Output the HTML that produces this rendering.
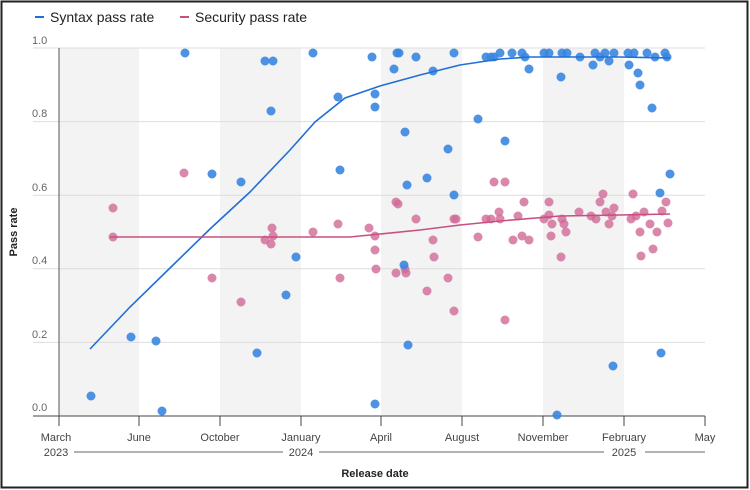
<!DOCTYPE html>
<html><head><style>
body{margin:0;background:#fff}
svg{display:block;font-family:"Liberation Sans",sans-serif}
</style></head><body>
<svg width="750" height="490" viewBox="0 0 750 490">
<rect x="1.5" y="1.5" width="746" height="486" fill="#fff" stroke="#222" stroke-width="2"/>
<g fill="#f3f3f3">
<rect x="59" y="48" width="80" height="368"/><rect x="220" y="48" width="81" height="368"/>
<rect x="381" y="48" width="81" height="368"/><rect x="543" y="48" width="81" height="368"/>
</g>
<g stroke="#ddd" stroke-width="1">
<line x1="33" x2="705" y1="48" y2="48"/><line x1="33" x2="705" y1="121.6" y2="121.6"/>
<line x1="33" x2="705" y1="195.2" y2="195.2"/><line x1="33" x2="705" y1="268.8" y2="268.8"/>
<line x1="33" x2="705" y1="342.4" y2="342.4"/>
</g>
<g fill="#666" font-size="11">
<text x="32" y="44">1.0</text><text x="32" y="117">0.8</text><text x="32" y="191">0.6</text>
<text x="32" y="264">0.4</text><text x="32" y="338">0.2</text><text x="32" y="411">0.0</text>
</g>
<line x1="59" y1="48" x2="59" y2="416" stroke="#555"/>
<line x1="33" y1="416" x2="705" y2="416" stroke="#444"/>
<g stroke="#444">
<line x1="59" x2="59" y1="416" y2="426"/><line x1="139" x2="139" y1="416" y2="426"/><line x1="220" x2="220" y1="416" y2="426"/>
<line x1="301" x2="301" y1="416" y2="426"/><line x1="381" x2="381" y1="416" y2="426"/><line x1="462" x2="462" y1="416" y2="426"/>
<line x1="543" x2="543" y1="416" y2="426"/><line x1="624" x2="624" y1="416" y2="426"/><line x1="705" x2="705" y1="416" y2="426"/>
</g>
<g fill="#444" font-size="11" text-anchor="middle">
<text x="56" y="441">March</text><text x="139" y="441">June</text><text x="220" y="441">October</text>
<text x="301" y="441">January</text><text x="381" y="441">April</text><text x="462" y="441">August</text>
<text x="543" y="441">November</text><text x="624" y="441">February</text><text x="705" y="441">May</text>
<text x="56" y="456">2023</text><text x="301" y="456">2024</text><text x="624" y="456">2025</text>
<text x="375" y="477" font-weight="bold" fill="#222">Release date</text>
</g>
<g stroke="#666"><line x1="74" x2="283" y1="452" y2="452"/><line x1="319" x2="604" y1="452" y2="452"/><line x1="645" x2="705" y1="452" y2="452"/></g>
<text transform="translate(17,232) rotate(-90)" text-anchor="middle" font-size="11" font-weight="bold" fill="#222">Pass rate</text>
<line x1="35" y1="17" x2="44" y2="17" stroke="#1f6fd6" stroke-width="2"/>
<text x="50" y="22" font-size="14" fill="#222">Syntax pass rate</text>
<line x1="180" y1="17" x2="189" y2="17" stroke="#c94f82" stroke-width="2"/>
<text x="195" y="22" font-size="14" fill="#222">Security pass rate</text>
<g fill="#d06a96" fill-opacity="0.8">
<circle cx="113" cy="208" r="4.5"/><circle cx="113" cy="237" r="4.5"/><circle cx="184" cy="173" r="4.5"/><circle cx="212" cy="278" r="4.5"/><circle cx="241" cy="302" r="4.5"/><circle cx="265" cy="240" r="4.5"/><circle cx="272" cy="228" r="4.5"/><circle cx="273" cy="236" r="4.5"/><circle cx="271" cy="244" r="4.5"/><circle cx="313" cy="232" r="4.5"/><circle cx="338" cy="224" r="4.5"/><circle cx="340" cy="278" r="4.5"/><circle cx="369" cy="228" r="4.5"/><circle cx="375" cy="236" r="4.5"/><circle cx="375" cy="250" r="4.5"/><circle cx="376" cy="269" r="4.5"/><circle cx="396" cy="202" r="4.5"/><circle cx="398" cy="204" r="4.5"/><circle cx="396" cy="273" r="4.5"/><circle cx="405" cy="269" r="4.5"/><circle cx="406" cy="273" r="4.5"/><circle cx="416" cy="219" r="4.5"/><circle cx="427" cy="291" r="4.5"/><circle cx="433" cy="240" r="4.5"/><circle cx="434" cy="257" r="4.5"/><circle cx="448" cy="278" r="4.5"/><circle cx="454" cy="311" r="4.5"/><circle cx="454" cy="219" r="4.5"/><circle cx="456" cy="219" r="4.5"/><circle cx="478" cy="237" r="4.5"/><circle cx="486" cy="219" r="4.5"/><circle cx="491" cy="219" r="4.5"/><circle cx="494" cy="182" r="4.5"/><circle cx="499" cy="212" r="4.5"/><circle cx="500" cy="219" r="4.5"/><circle cx="505" cy="182" r="4.5"/><circle cx="505" cy="320" r="4.5"/><circle cx="513" cy="240" r="4.5"/><circle cx="518" cy="216" r="4.5"/><circle cx="522" cy="236" r="4.5"/><circle cx="524" cy="202" r="4.5"/><circle cx="529" cy="240" r="4.5"/><circle cx="544" cy="219" r="4.5"/><circle cx="549" cy="215" r="4.5"/><circle cx="549" cy="202" r="4.5"/><circle cx="551" cy="236" r="4.5"/><circle cx="552" cy="224" r="4.5"/><circle cx="561" cy="257" r="4.5"/><circle cx="562" cy="219" r="4.5"/><circle cx="564" cy="224" r="4.5"/><circle cx="566" cy="232" r="4.5"/><circle cx="579" cy="212" r="4.5"/><circle cx="591" cy="216" r="4.5"/><circle cx="596" cy="219" r="4.5"/><circle cx="600" cy="202" r="4.5"/><circle cx="603" cy="194" r="4.5"/><circle cx="606" cy="212" r="4.5"/><circle cx="609" cy="224" r="4.5"/><circle cx="612" cy="216" r="4.5"/><circle cx="614" cy="208" r="4.5"/><circle cx="631" cy="219" r="4.5"/><circle cx="633" cy="194" r="4.5"/><circle cx="636" cy="216" r="4.5"/><circle cx="640" cy="232" r="4.5"/><circle cx="641" cy="256" r="4.5"/><circle cx="644" cy="212" r="4.5"/><circle cx="650" cy="224" r="4.5"/><circle cx="653" cy="249" r="4.5"/><circle cx="657" cy="232" r="4.5"/><circle cx="662" cy="211" r="4.5"/><circle cx="666" cy="202" r="4.5"/><circle cx="668" cy="223" r="4.5"/>
</g>
<g fill="#3a86e0" fill-opacity="0.9">
<circle cx="91" cy="396" r="4.5"/><circle cx="131" cy="337" r="4.5"/><circle cx="156" cy="341" r="4.5"/><circle cx="162" cy="411" r="4.5"/><circle cx="185" cy="53" r="4.5"/><circle cx="212" cy="174" r="4.5"/><circle cx="241" cy="182" r="4.5"/><circle cx="257" cy="353" r="4.5"/><circle cx="265" cy="61" r="4.5"/><circle cx="273" cy="61" r="4.5"/><circle cx="271" cy="111" r="4.5"/><circle cx="286" cy="295" r="4.5"/><circle cx="296" cy="257" r="4.5"/><circle cx="313" cy="53" r="4.5"/><circle cx="340" cy="170" r="4.5"/><circle cx="338" cy="97" r="4.5"/><circle cx="372" cy="57" r="4.5"/><circle cx="375" cy="107" r="4.5"/><circle cx="375" cy="94" r="4.5"/><circle cx="375" cy="404" r="4.5"/><circle cx="404" cy="265" r="4.5"/><circle cx="394" cy="69" r="4.5"/><circle cx="397" cy="53" r="4.5"/><circle cx="399" cy="53" r="4.5"/><circle cx="405" cy="132" r="4.5"/><circle cx="407" cy="185" r="4.5"/><circle cx="408" cy="345" r="4.5"/><circle cx="416" cy="57" r="4.5"/><circle cx="427" cy="178" r="4.5"/><circle cx="433" cy="71" r="4.5"/><circle cx="448" cy="149" r="4.5"/><circle cx="454" cy="53" r="4.5"/><circle cx="454" cy="195" r="4.5"/><circle cx="478" cy="119" r="4.5"/><circle cx="486" cy="57" r="4.5"/><circle cx="491" cy="57" r="4.5"/><circle cx="494" cy="57" r="4.5"/><circle cx="500" cy="53" r="4.5"/><circle cx="505" cy="141" r="4.5"/><circle cx="512" cy="53" r="4.5"/><circle cx="522" cy="53" r="4.5"/><circle cx="525" cy="57" r="4.5"/><circle cx="529" cy="69" r="4.5"/><circle cx="544" cy="53" r="4.5"/><circle cx="549" cy="53" r="4.5"/><circle cx="557" cy="415" r="4.5"/><circle cx="562" cy="53" r="4.5"/><circle cx="561" cy="77" r="4.5"/><circle cx="567" cy="53" r="4.5"/><circle cx="580" cy="57" r="4.5"/><circle cx="595" cy="53" r="4.5"/><circle cx="593" cy="65" r="4.5"/><circle cx="600" cy="57" r="4.5"/><circle cx="605" cy="53" r="4.5"/><circle cx="609" cy="61" r="4.5"/><circle cx="613" cy="366" r="4.5"/><circle cx="614" cy="53" r="4.5"/><circle cx="628" cy="53" r="4.5"/><circle cx="629" cy="65" r="4.5"/><circle cx="634" cy="53" r="4.5"/><circle cx="638" cy="73" r="4.5"/><circle cx="640" cy="85" r="4.5"/><circle cx="647" cy="53" r="4.5"/><circle cx="652" cy="108" r="4.5"/><circle cx="655" cy="57" r="4.5"/><circle cx="660" cy="193" r="4.5"/><circle cx="661" cy="353" r="4.5"/><circle cx="665" cy="53" r="4.5"/><circle cx="667" cy="57" r="4.5"/><circle cx="670" cy="174" r="4.5"/>
</g>
<polyline fill="none" stroke="#1f6fd6" stroke-width="1.6" points="90,349 130,307 170,268 210,229 250,192 290,150 315,122 345,98 380,86 420,75 460,65 500,59 530,57 580,57 620,57 670,58"/>
<polyline fill="none" stroke="#c94f82" stroke-width="1.6" points="110,237 250,237 350,237 380,234 420,230 460,225 500,221 560,216 620,215 670,214"/>
</svg>
</body></html>
